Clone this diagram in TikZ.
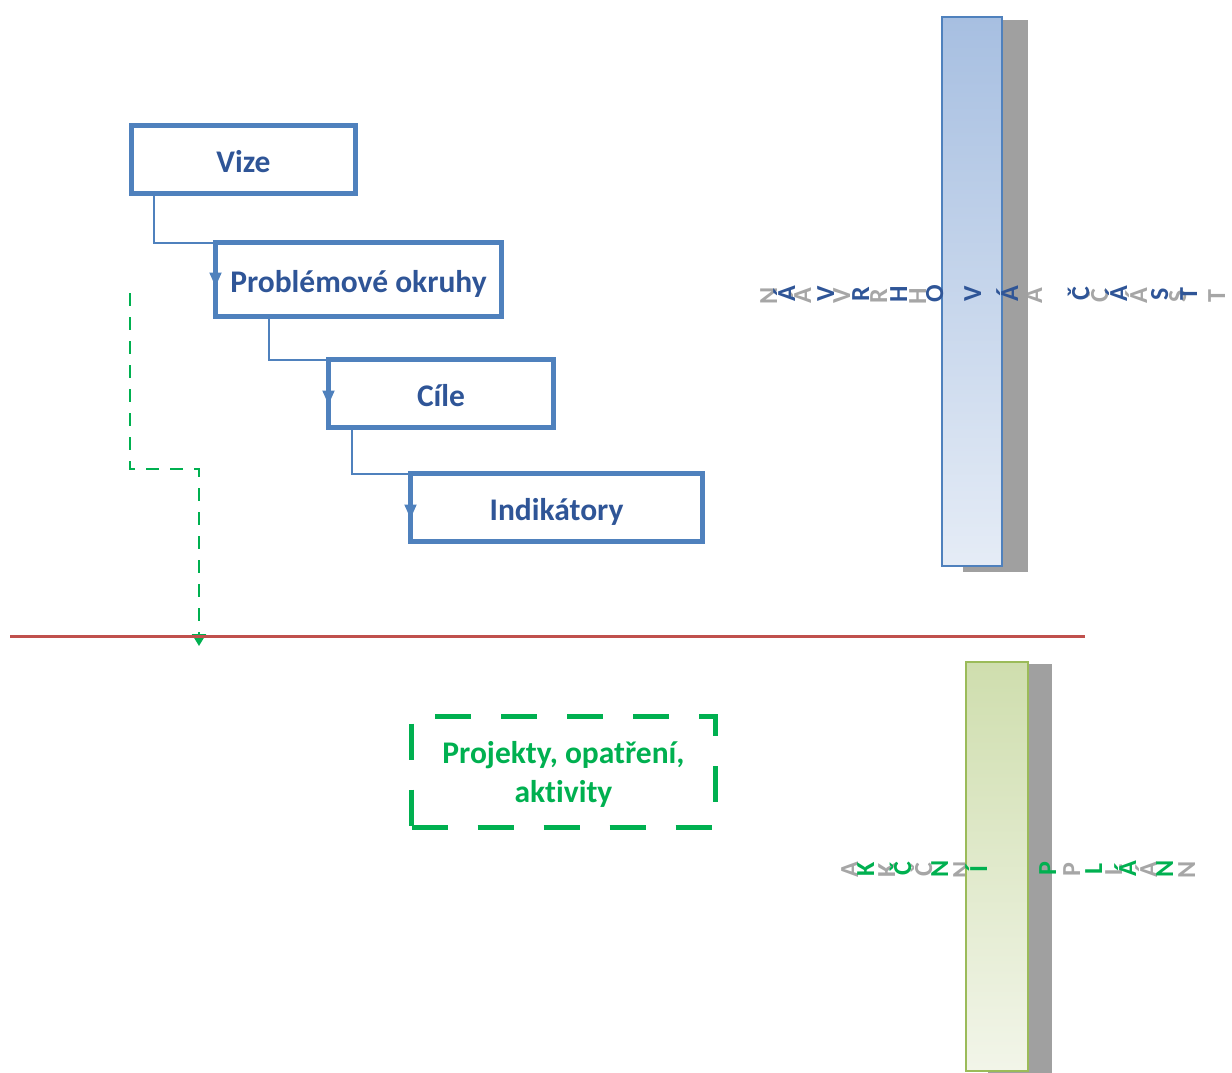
\documentclass[tikz,border=0pt]{standalone}
\usepackage{fontspec}
\setmainfont{Carlito}[RawFeature={-liga}]
\usetikzlibrary{arrows.meta,calc}
\definecolor{boxblue}{RGB}{79,129,189}
\definecolor{txtblue}{RGB}{47,85,151}
\definecolor{lgreen}{RGB}{0,176,80}
\definecolor{redline}{RGB}{192,80,77}
\definecolor{shadowgray}{RGB}{160,160,160}
\definecolor{lettergray}{RGB}{166,166,166}
\definecolor{barblueTop}{RGB}{167,191,225}
\definecolor{barblueBot}{RGB}{229,236,246}
\definecolor{bargreenTop}{RGB}{207,222,174}
\definecolor{bargreenBot}{RGB}{242,245,233}
\definecolor{bargreenLine}{RGB}{155,187,89}
\begin{document}
\begin{tikzpicture}[x=1pt,y=-1pt,
  stepbox/.style={draw=boxblue, line width=5pt, outer sep=0pt, inner sep=0pt,
    text=txtblue, text height=31pt, text depth=6pt,
    font=\fontsize{31.5}{36}\selectfont\bfseries},
  conn/.style={draw=boxblue, line width=2pt, -{Triangle[width=12pt,length=14pt]}},
  greenconn/.style={draw=lgreen, line width=2pt, dash pattern=on 13pt off 11pt,
    -{Triangle[width=14pt,length=12pt]}},
  greenbox/.style={draw=lgreen, line width=5pt, dash pattern=on 36pt off 30pt,
    outer sep=0pt, inner sep=0pt, text=lgreen,
    font=\fontsize{31.5}{39}\selectfont\bfseries},
  bletter/.style={rotate=90, anchor=base, inner sep=0pt, text=txtblue,
    font=\fontsize{26}{30}\selectfont\bfseries},
  gletter/.style={rotate=90, anchor=base, inner sep=0pt, text=lettergray,
    font=\fontsize{26}{30}\selectfont\bfseries},
  grletter/.style={rotate=90, anchor=base, inner sep=0pt, text=lgreen,
    font=\fontsize{26}{30}\selectfont\bfseries},
]
\useasboundingbox (0,0) rectangle (1232,1073);

% boxes
\node[stepbox, minimum width=224pt, minimum height=68pt] (vize) at (243.5,159.5) {Vize};
\node[stepbox, minimum width=286pt, minimum height=74pt] (prob) at (358.5,279.5) {Problémové okruhy};
\node[stepbox, minimum width=225pt, minimum height=68pt] (cile) at (441,393.5) {Cíle};
\node[stepbox, minimum width=292pt, minimum height=68pt] (ind) at (556.5,507.5) {Indikátory};

% connectors
\draw[conn] ($(vize.south west)+(22.5,0)$) |- (prob.north west) -- ($(prob.north west)+(0,44)$);
\draw[conn] ($(prob.south west)+(53.5,0)$) |- (cile.north west) -- ($(cile.north west)+(0,45)$);
\draw[conn] ($(cile.south west)+(23.5,0)$) |- (ind.north west) -- ($(ind.north west)+(0,45)$);

% green dashed connector
\coordinate (gstart) at (130,293);
\coordinate (gend) at (199,646);
\draw[greenconn] (gstart) |- ($(gend)+(0,-177)$) -- (gend);

% red line
\coordinate (rl) at (10,636);
\coordinate (rr) at (1085,636);
\draw[redline, line width=3pt] (rl) -- (rr);

% green dashed box
\node[greenbox, minimum width=304pt, minimum height=111pt] (proj) at (563.5,772)
  {\raisebox{-3pt}[\height][\depth]{\begin{tabular}{@{}c@{}}Projekty, opatření,\\aktivity\end{tabular}}};

% gray letters (under bars)
\foreach \l/\x in {N/777,Á/811,V/850,R/887,H/926,O/965,V/1003,Á/1042,Č/1108,Á/1147,S/1186,T/1225}
  \node[gletter] at (\x,296) {\l};
\foreach \l/\x in {A/858,K/895,Č/932,N/970,Í/1008,P/1080,L/1122,Á/1157,N/1195}
  \node[gletter] at (\x,870) {\l};

% bars with shadows
\fill[shadowgray] (963,20) rectangle (1028,572);
\path[top color=barblueTop, bottom color=barblueBot, draw=boxblue, line width=2pt]
  (942,17) rectangle (1002,566);
\fill[shadowgray] (988,664) rectangle (1052,1073);
\path[top color=bargreenTop, bottom color=bargreenBot, draw=bargreenLine, line width=2pt]
  (966,662) rectangle (1028,1071);

% coloured letters (over bars)
\foreach \l/\x in {Á/795,V/834,R/869,H/907,O/943,V/981,Á/1018,Č/1089,Á/1127,S/1168,T/1197}
  \node[bletter] at (\x,294) {\l};
\foreach \l/\x in {K/874,Č/911,N/948,Í/987,P/1056,L/1102,Á/1136,N/1173}
  \node[grletter] at (\x,869) {\l};
\end{tikzpicture}
\end{document}
